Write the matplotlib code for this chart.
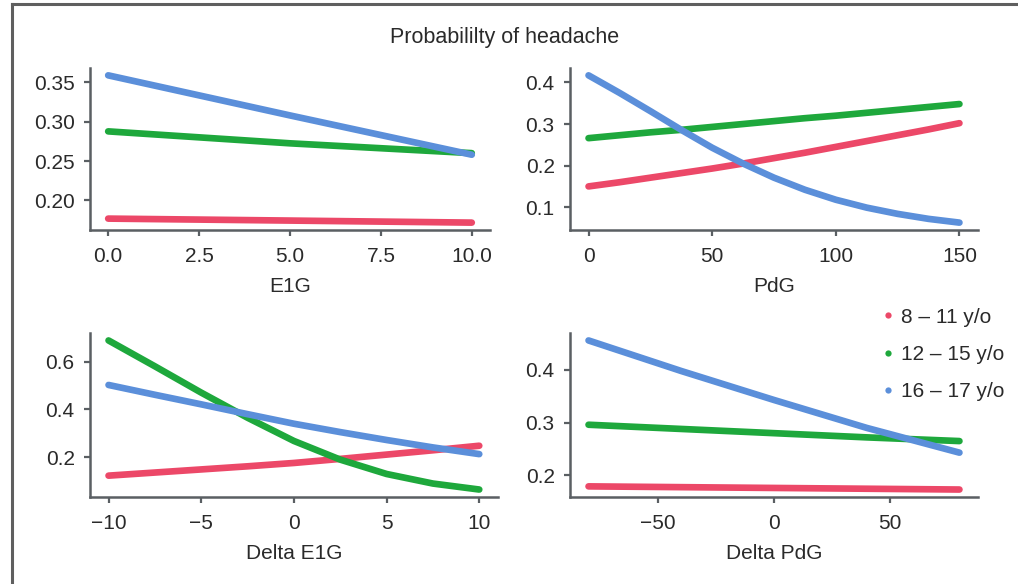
import matplotlib
matplotlib.use("Agg")
import matplotlib.pyplot as plt
from matplotlib.lines import Line2D

plt.rcParams['font.family'] = ['Liberation Sans', 'DejaVu Sans']

groups = ['8 \u2013 11 y/o', '12 \u2013 15 y/o', '16 \u2013 17 y/o']
colors = ['#EC4868', '#1EA83C', '#5B8FDA']

# E1G panel
e1g_x = [0, 5, 10]
e1g_y = [
    [0.1767, 0.1742, 0.1716],
    [0.2877, 0.2725, 0.2600],
    [0.3590, 0.3080, 0.2580],
]

# PdG panel
pdg_x = [0, 12.5, 25, 37.5, 50, 62.5, 75, 87.5, 100, 112.5, 125, 137.5, 150]
pdg_y = [
    [0.150, 0.160, 0.171, 0.182, 0.193, 0.205, 0.218, 0.231, 0.245, 0.259, 0.273, 0.287, 0.302],
    [0.266, 0.273, 0.280, 0.286, 0.293, 0.300, 0.307, 0.314, 0.320, 0.327, 0.334, 0.341, 0.348],
    [0.417, 0.375, 0.331, 0.286, 0.243, 0.205, 0.171, 0.142, 0.118, 0.099, 0.084, 0.072, 0.063],
]

# Delta E1G panel
de1g_x = [-10, -7.5, -5, -2.5, 0, 2.5, 5, 7.5, 10]
de1g_y = [
    [0.123, 0.136, 0.149, 0.162, 0.176, 0.193, 0.211, 0.229, 0.248],
    [0.688, 0.580, 0.470, 0.365, 0.268, 0.190, 0.130, 0.090, 0.065],
    [0.502, 0.461, 0.421, 0.380, 0.340, 0.305, 0.272, 0.241, 0.213],
]

# Delta PdG panel
dpdg_x = [-80, -40, 0, 40, 80]
dpdg_y = [
    [0.179, 0.1775, 0.176, 0.1745, 0.173],
    [0.296, 0.288, 0.280, 0.272, 0.265],
    [0.456, 0.398, 0.343, 0.290, 0.243],
]

panels = [
    (e1g_x, e1g_y, 'E1G', [0, 2.5, 5, 7.5, 10], ['0.0', '2.5', '5.0', '7.5', '10.0'],
     [0.20, 0.25, 0.30, 0.35], ['0.20', '0.25', '0.30', '0.35']),
    (pdg_x, pdg_y, 'PdG', [0, 50, 100, 150], ['0', '50', '100', '150'],
     [0.1, 0.2, 0.3, 0.4], ['0.1', '0.2', '0.3', '0.4']),
    (de1g_x, de1g_y, 'Delta E1G', [-10, -5, 0, 5, 10], ['\u221210', '\u22125', '0', '5', '10'],
     [0.2, 0.4, 0.6], ['0.2', '0.4', '0.6']),
    (dpdg_x, dpdg_y, 'Delta PdG', [-50, 0, 50], ['\u221250', '0', '50'],
     [0.2, 0.3, 0.4], ['0.2', '0.3', '0.4']),
]

boxes = [
    [0.0884, 0.6062, 0.3929, 0.2774],
    [0.5599, 0.6062, 0.4008, 0.2774],
    [0.0884, 0.1490, 0.4006, 0.2808],
    [0.5599, 0.1490, 0.4008, 0.2808],
]

fig = plt.figure(figsize=(10.18, 5.84), dpi=100)

axis_grey = '#5a5f63'
text_col = '#2a2a2a'
fs = 15

for (xs, ys, xlabel, xt, xtl, yt, ytl), box in zip(panels, boxes):
    ax = fig.add_axes(box)
    for series, c in zip(ys, colors):
        ax.plot(xs, series, color=c, lw=4.8, solid_capstyle='round')
    ax.margins(0.05)
    ax.set_xticks(xt)
    ax.set_xticklabels(xtl)
    ax.set_yticks(yt)
    ax.set_yticklabels(ytl)
    ax.set_xlabel(xlabel, fontsize=fs, color=text_col, labelpad=8)
    for side in ['top', 'right']:
        ax.spines[side].set_visible(False)
    for side in ['left', 'bottom']:
        ax.spines[side].set_color(axis_grey)
        ax.spines[side].set_linewidth(1.8)
    ax.tick_params(axis='both', colors=axis_grey, labelcolor=text_col,
                   labelsize=fs, length=4, width=1.6)
    ax.tick_params(axis='x', pad=8)
    ax.tick_params(axis='y', pad=7)

fig.text(0.496, 0.935, 'Probabililty of headache', ha='center', va='center',
         fontsize=15.5, color=text_col)

handles = [Line2D([], [], ls='none', marker='o', markersize=4.5, color=c,
                  markeredgewidth=0) for c in colors]
fig.legend(handles, groups, loc='upper left', bbox_to_anchor=(0.866, 0.473),
           frameon=False, fontsize=fs, handlelength=0.6, handletextpad=0.35,
           labelspacing=0.88, borderaxespad=0, borderpad=0,
           labelcolor=text_col)

# outer frame (top and left edges)
fig.add_artist(Line2D([0.0113, 1.0], [0.9923, 0.9923], transform=fig.transFigure,
                      color='#5f5f5f', lw=2.2))
fig.add_artist(Line2D([0.0113, 0.0113], [0.0, 0.9923], transform=fig.transFigure,
                      color='#5f5f5f', lw=2.2))

fig.savefig('out.png', dpi=100)
